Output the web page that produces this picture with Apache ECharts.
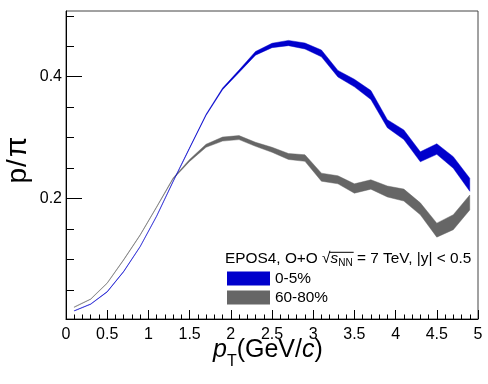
<!DOCTYPE html>
<html>
<head>
<meta charset="utf-8">
<script src="https://cdn.jsdelivr.net/npm/echarts@6/dist/echarts.min.js"></script>
<style>
  html, body { margin: 0; padding: 0; background: #fff; }
  #chart { width: 488px; height: 384px; }
</style>
</head>
<body>
<div id="chart"></div>
<script>
// ---- data ----
var pt = [0.1, 0.3, 0.5, 0.7, 0.9, 1.1, 1.3, 1.5, 1.7, 1.9, 2.1, 2.3, 2.5, 2.7, 2.9, 3.1, 3.3, 3.5, 3.7, 3.9, 4.1, 4.3, 4.5, 4.7, 4.9];
var central = [0.0154, 0.0265, 0.0467, 0.080, 0.121, 0.171, 0.228, 0.283, 0.3375, 0.380, 0.409, 0.4385, 0.4514, 0.4554, 0.4505, 0.4383, 0.405, 0.3896, 0.370, 0.3228, 0.3047, 0.2685, 0.2812, 0.2592, 0.2225];
var centralErr = [0.0003, 0.0003, 0.0003, 0.0003, 0.0003, 0.0004, 0.0005, 0.0007, 0.001, 0.0013, 0.002, 0.003, 0.0036, 0.0043, 0.0049, 0.0056, 0.0054, 0.0062, 0.0074, 0.0066, 0.0079, 0.0082, 0.0087, 0.0095, 0.0107];
var peripheral = [0.0215, 0.0347, 0.061, 0.0993, 0.140, 0.186, 0.233, 0.2625, 0.2866, 0.2976, 0.300, 0.289, 0.280, 0.269, 0.2664, 0.235, 0.2307, 0.2164, 0.223, 0.2115, 0.2056, 0.183, 0.148, 0.161, 0.1934];
var peripheralErr = [0.0003, 0.0003, 0.0003, 0.0003, 0.0003, 0.0004, 0.0008, 0.0016, 0.0025, 0.0033, 0.0033, 0.0033, 0.0041, 0.0049, 0.0054, 0.0066, 0.0066, 0.0077, 0.0077, 0.009, 0.0098, 0.0098, 0.0115, 0.0123, 0.0123];
var seriesNames = ['0-5%', '60-80%'];
var yMajorTicks = [0.2, 0.4];
var yMinorTicks = [0.05, 0.1, 0.15, 0.2, 0.25, 0.3, 0.35, 0.4, 0.45, 0.5];
var yRange = [0.002, 0.508];
var xRange = [0, 5];

var BLUE = '#0000cc', GRAY = '#666666';
var FONT = '"Liberation Sans", Arial, Helvetica, sans-serif';

function bandSeries(name, vals, errs, color) {
  var data = pt.map(function (x, i) { return [x, vals[i] - errs[i], vals[i] + errs[i]]; });
  return {
    name: name, type: 'custom', data: data, clip: true, z: 2,
    itemStyle: { color: color },
    encode: { x: 0, y: [1, 2] },
    renderItem: function (params, api) {
      if (params.dataIndex !== 0) return null;
      var upper = data.map(function (d) { return api.coord([d[0], d[2]]); });
      var lower = data.map(function (d) { return api.coord([d[0], d[1]]); }).reverse();
      return {
        type: 'polygon',
        shape: { points: upper.concat(lower) },
        style: { fill: color, stroke: color, lineWidth: 0.45 }
      };
    }
  };
}

// measure text for the sqrt overline in the legend header
var LEG_FS = 15.4, LEG_SUB = 10;
var mctx = document.createElement('canvas').getContext('2d');
function tw(txt, font) { mctx.font = font; return mctx.measureText(txt).width; }
var hdrX = 225, hdrY = 258.3;
var preW = tw('EPOS4, O+O ', LEG_FS + 'px ' + FONT);
var rootW = tw('\u221a', LEG_FS + 'px ' + FONT);
var sW = tw('s', 'italic ' + LEG_FS + 'px ' + FONT);
var nnW = tw('NN', LEG_SUB + 'px ' + FONT);
var olX1 = hdrX + preW + rootW * 0.85;
var olX2 = hdrX + preW + rootW + sW + nnW + 1;

var chart = echarts.init(document.getElementById('chart'), null, { renderer: 'canvas' });
var option = {
  animation: false,
  backgroundColor: '#fff',
  grid: { left: 66, right: 10, top: 11, bottom: 65, show: true, borderColor: '#444', borderWidth: 1, backgroundColor: 'transparent', outerBoundsMode: 'none' },
  xAxis: {
    type: 'value', min: xRange[0], max: xRange[1], interval: 0.5,
    axisLine: { show: true, onZero: false, lineStyle: { color: '#000', width: 1 } },
    axisTick: { show: true, inside: true, length: 9, lineStyle: { color: '#000' } },
    minorTick: { show: true, splitNumber: 5, length: 4.5, lineStyle: { color: '#000' } },
    splitLine: { show: false },
    axisLabel: { color: '#000', fontSize: 16, fontFamily: FONT, margin: 8, showMinLabel: true, showMaxLabel: true, hideOverlap: false }
  },
  yAxis: [
    {
      type: 'value', min: yRange[0], max: yRange[1],
      axisLine: { show: true, onZero: false, lineStyle: { color: '#000', width: 1 } },
      axisTick: { show: true, inside: true, length: 16, customValues: yMajorTicks, lineStyle: { color: '#000' } },
      axisLabel: { color: '#000', fontSize: 16, fontFamily: FONT, margin: 4, customValues: yMajorTicks,
        formatter: function (v) { return v.toFixed(1); } },
      splitLine: { show: false }
    },
    {
      type: 'value', min: yRange[0], max: yRange[1], position: 'left',
      axisLine: { show: false },
      axisTick: { show: true, inside: true, length: 8, customValues: yMinorTicks, lineStyle: { color: '#000' } },
      axisLabel: { show: false },
      splitLine: { show: false }
    }
  ],
  legend: {
    orient: 'vertical', left: 227, top: 271, itemWidth: 43, itemHeight: 14, itemGap: 4,
    selectedMode: false, padding: 0,
    textStyle: { color: '#000', fontSize: 15.4, fontFamily: FONT },
    data: [
      { name: seriesNames[0], icon: 'rect', itemStyle: { color: BLUE, borderWidth: 0 } },
      { name: seriesNames[1], icon: 'rect', itemStyle: { color: GRAY, borderWidth: 0 } }
    ]
  },
  series: [
    bandSeries(seriesNames[1], peripheral, peripheralErr, GRAY),
    bandSeries(seriesNames[0], central, centralErr, BLUE)
  ],
  graphic: [
    { type: 'text', x: 18, y: 160, rotation: Math.PI / 2, z: 10,
      style: {
        text: '{a|p}{c|/}{b|\u03c0}', align: 'center', verticalAlign: 'middle', fill: '#000', fontFamily: FONT,
        rich: {
          a: { fontSize: 28, fontFamily: FONT, padding: [0, 1, 0, 0] },
          c: { fontSize: 28, fontFamily: FONT, padding: [0, 1, 0, 0] },
          b: { fontSize: 30, fontFamily: FONT, padding: [0, 0, 0, 1] }
        }
      } },
    { type: 'text', x: 213, y: 350, z: 10,
      style: {
        text: '{p|p}{sub|T}{m|(GeV/}{p|c}{m|)}', align: 'left', verticalAlign: 'middle',
        fill: '#000', fontFamily: FONT,
        rich: {
          p: { fontSize: 25, fontStyle: 'italic', fontFamily: FONT, lineHeight: 40, verticalAlign: 'middle' },
          m: { fontSize: 25, fontFamily: FONT, lineHeight: 40, verticalAlign: 'middle' },
          sub: { fontSize: 16, fontFamily: FONT, lineHeight: 16, verticalAlign: 'bottom' }
        }
      } },
    { type: 'text', x: hdrX, y: hdrY, z: 10,
      style: {
        text: '{m|EPOS4, O+O \u221a}{s|s}{sub|NN}{m| = 7 TeV, |y| < 0.5}', align: 'left', verticalAlign: 'middle',
        fill: '#000', fontFamily: FONT,
        rich: {
          m: { fontSize: LEG_FS, fontFamily: FONT, lineHeight: 20, verticalAlign: 'middle' },
          s: { fontSize: LEG_FS, fontStyle: 'italic', fontFamily: FONT, lineHeight: 20, verticalAlign: 'middle' },
          sub: { fontSize: LEG_SUB, fontFamily: FONT, lineHeight: 10, verticalAlign: 'bottom' }
        }
      } },
    { type: 'line', z: 10, shape: { x1: olX1, y1: hdrY - 6, x2: olX2, y2: hdrY - 6 }, style: { stroke: '#000', lineWidth: 1 } }
  ]
};
chart.setOption(option);
</script>
</body>
</html>
